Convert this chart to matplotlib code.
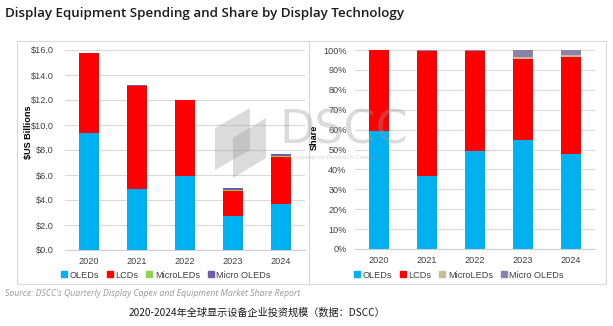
import matplotlib
matplotlib.use("Agg")
import matplotlib.pyplot as plt
import numpy as np
from matplotlib.lines import Line2D
from matplotlib.patches import Rectangle, Polygon

plt.rcParams["font.family"] = ["Liberation Sans", "DejaVu Sans"]

years = ["2020", "2021", "2022", "2023", "2024"]
series = ["OLEDs", "LCDs", "MicroLEDs", "Micro OLEDs"]

# spending, $US billions
spend_oled = [9.4, 4.85, 5.9, 2.7, 3.65]
spend_lcd = [6.4, 8.3, 6.1, 2.05, 3.8]
spend_microled = [0.0, 0.0, 0.0, 0.05, 0.05]
spend_micro_oled = [0.0, 0.08, 0.04, 0.2, 0.2]

# share, %
share_oled = [59.5, 36.5, 49.0, 55.0, 47.5]
share_lcd = [40.5, 63.0, 50.6, 40.5, 49.2]
share_microled = [0.0, 0.0, 0.0, 1.0, 0.6]
share_micro_oled = [0.0, 0.5, 0.4, 3.5, 2.7]

left_colors = ["#00B0F0", "#FF0000", "#92D050", "#6E5FA8"]
right_colors = ["#00B0F0", "#FF0000", "#C4BD97", "#8A82A8"]

W, H = 613, 326
fig = plt.figure(figsize=(W / 100, H / 100), dpi=100)
fig.patch.set_facecolor("white")


def px_axes(x0, y0, x1, y1):
    return fig.add_axes([x0 / W, 1 - y1 / H, (x1 - x0) / W, (y1 - y0) / H])


def stacked(ax, stacks, colors):
    x = np.arange(len(years))
    bottom = np.zeros(len(years))
    for vals, c in zip(stacks, colors):
        ax.bar(x, vals, 0.4, bottom=bottom, color=c, zorder=2)
        bottom += np.array(vals)
    ax.set_xlim(-0.5, len(years) - 0.5)
    ax.set_xticks(x)
    ax.set_xticklabels(years)
    for s in ["top", "right", "left"]:
        ax.spines[s].set_visible(False)
    ax.spines["bottom"].set_color("#d0d0d0")
    ax.yaxis.grid(True, color="#d9d9d9", lw=0.8, zorder=0)
    ax.tick_params(length=0, labelsize=6.6, colors="#404040")
    ax.tick_params(axis="x", pad=5)


# panel frames
for x0, x1 in [(17, 309), (309, 606)]:
    fig.patches.append(Rectangle((x0 / W, 1 - 284 / H), (x1 - x0) / W, (284 - 41) / H,
                                 transform=fig.transFigure, fill=False,
                                 edgecolor="#d9d9d9", lw=0.8))

ax1 = px_axes(65, 50, 305, 250)
stacked(ax1, [spend_oled, spend_lcd, spend_microled, spend_micro_oled], left_colors)
ax1.set_ylim(0, 16)
ax1.set_yticks(np.arange(0, 17, 2))
ax1.set_yticklabels([f"${v:.1f}" for v in np.arange(0, 17, 2)])
ax1.tick_params(axis="y", pad=8)
fig.text(29 / W, 1 - 132 / H, "$US Billions", rotation=90, ha="center", va="center",
         fontsize=6.6, fontweight="bold", color="#000000")

ax2 = px_axes(355, 50, 595, 249)
stacked(ax2, [share_oled, share_lcd, share_microled, share_micro_oled], right_colors)
ax2.set_ylim(0, 100)
ax2.set_yticks(np.arange(0, 101, 10))
ax2.set_yticklabels([f"{v}%" for v in range(0, 101, 10)])
ax2.tick_params(axis="y", pad=6)
fig.text(314 / W, 1 - 137 / H, "Share", rotation=90, ha="center", va="center",
         fontsize=6.6, fontweight="bold", color="#000000")

# legends
for cx, colors in [(165, left_colors), (458, right_colors)]:
    handles = [Line2D([], [], marker="s", ls="", color=c, markersize=4) for c in colors]
    fig.legend(handles, series, loc="center", bbox_to_anchor=(cx / W, 1 - 275 / H),
               ncol=4, frameon=False, fontsize=6.6, handletextpad=0.1,
               columnspacing=0.7, labelcolor="#404040", handlelength=1.0)

# watermark
fig.patches.append(Polygon([(215 / W, 1 - 128 / H), (250 / W, 1 - 108 / H),
                            (250 / W, 1 - 150 / H), (215 / W, 1 - 170 / H)],
                           closed=True, transform=fig.transFigure,
                           facecolor="#9a9a9a", alpha=0.35, zorder=10))
fig.patches.append(Polygon([(233 / W, 1 - 138 / H), (266 / W, 1 - 118 / H),
                            (266 / W, 1 - 158 / H), (233 / W, 1 - 178 / H)],
                           closed=True, transform=fig.transFigure,
                           facecolor="#9a9a9a", alpha=0.35, zorder=10))
fig.text(279 / W, 1 - 131 / H, "DSCC", fontsize=33, family="DejaVu Sans",
         color="#9a9a9a", alpha=0.35, ha="left", va="center", zorder=10)
fig.text(284 / W, 1 - 158 / H, "A Counterpoint Research Company", fontsize=4.5,
         color="#9a9a9a", alpha=0.4, ha="left", va="center", zorder=10)

# titles and notes
fig.text(5 / W, 1 - 14 / H, "Display Equipment Spending and Share by Display Technology",
         fontsize=9.6, fontweight="semibold", family="Open Sans", color="#1a1a1a",
         ha="left", va="center")
fig.text(5 / W, 1 - 293 / H,
         "Source: DSCC's Quarterly Display Capex and Equipment Market Share Report",
         fontsize=6.3, style="italic", family="Open Sans", color="#9a9a9a",
         ha="left", va="center")
fig.text(257 / W, 1 - 313 / H, "2020-2024年全球显示设备企业投资规模（数据：DSCC）",
         fontsize=7.3, family=["Noto Sans CJK SC", "DejaVu Sans"], color="#1a1a1a",
         ha="center", va="center")

fig.savefig("out.png", dpi=100)
